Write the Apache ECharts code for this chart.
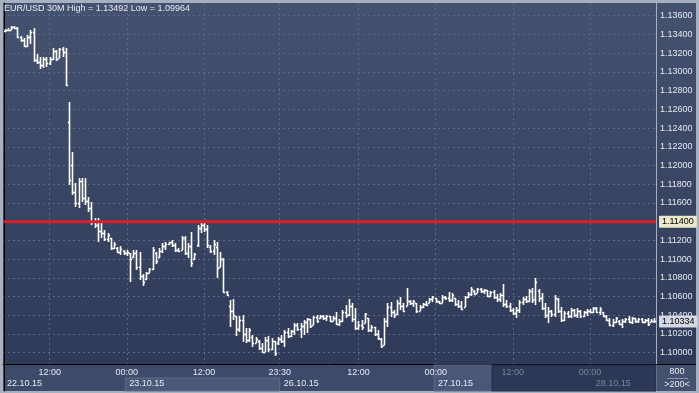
<!DOCTYPE html>
<html><head><meta charset="utf-8">
<script src="https://cdn.jsdelivr.net/npm/echarts@6/dist/echarts.min.js"></script>
<style>html,body{margin:0;padding:0;background:#a7b0c1}#c{width:699px;height:393px}</style>
</head><body><div id="c"></div>
<script>
// ---- data (30-minute OHLC bars, EUR/USD) ----
const open = [
1.13435,1.13450,1.13450,1.13480,1.13470,1.13370,1.13340,1.13280,1.13370,1.13430,
1.13130,1.13110,1.13070,1.13140,1.13090,1.13140,1.13220,1.13150,1.13240,1.13210,
1.12465,1.12000,1.11720,1.11600,1.11830,1.11650,1.11620,1.11550,1.11400,1.11360,
1.11300,1.11280,1.11210,1.11220,1.11120,1.11120,1.11080,1.11090,1.11060,1.11060,
1.11020,1.11070,1.10920,1.10820,1.10790,1.10850,1.10890,1.11060,1.11020,1.11090,
1.11140,1.11160,1.11180,1.11150,1.11100,1.11100,1.11230,1.11070,1.11140,1.11000,
1.11150,1.11330,1.11360,1.11320,1.11130,1.11090,1.11130,1.10920,1.11000,1.10650,
1.10500,1.10450,1.10390,1.10250,1.10350,1.10200,1.10140,1.10170,1.10105,1.10130,
1.10050,1.10010,1.10140,1.10040,1.10120,1.10100,1.10150,1.10120,1.10220,1.10180,
1.10230,1.10300,1.10250,1.10290,1.10330,1.10360,1.10300,1.10380,1.10370,1.10390,
1.10370,1.10390,1.10340,1.10370,1.10310,1.10340,1.10440,1.10400,1.10500,1.10360,
1.10260,1.10300,1.10320,1.10370,1.10240,1.10270,1.10200,1.10150,1.10085,1.10340,
1.10490,1.10430,1.10410,1.10530,1.10500,1.10500,1.10550,1.10530,1.10530,1.10450,
1.10490,1.10520,1.10535,1.10570,1.10580,1.10550,1.10530,1.10600,1.10580,1.10560,
1.10580,1.10520,1.10500,1.10490,1.10590,1.10630,1.10660,1.10640,1.10680,1.10660,
1.10670,1.10610,1.10650,1.10590,1.10570,1.10620,1.10520,1.10500,1.10460,1.10420,
1.10460,1.10540,1.10570,1.10550,1.10660,1.10570,1.10660,1.10580,1.10480,1.10400,
1.10450,1.10410,1.10570,1.10450,1.10350,1.10420,1.10390,1.10460,1.10400,1.10450,
1.10390,1.10430,1.10450,1.10430,1.10480,1.10440,1.10430,1.10390,1.10350,1.10300,
1.10330,1.10340,1.10310,1.10340,1.10360,1.10330,1.10370,1.10340,1.10360,1.10330,
1.10350,1.10330,1.10340];
const high = [
1.13458,1.13466,1.13490,1.13492,1.13476,1.13387,1.13359,1.13394,1.13448,1.13466,
1.13188,1.13162,1.13162,1.13162,1.13162,1.13252,1.13234,1.13258,1.13269,1.13252,
1.12675,1.12147,1.11810,1.11866,1.11866,1.11866,1.11667,1.11613,1.11436,1.11436,
1.11382,1.11311,1.11282,1.11222,1.11186,1.11133,1.11140,1.11097,1.11097,1.11062,
1.11097,1.11097,1.11079,1.10841,1.10865,1.10902,1.11133,1.11079,1.11115,1.11169,
1.11183,1.11186,1.11204,1.11169,1.11115,1.11247,1.11247,1.11169,1.11293,1.11062,
1.11364,1.11382,1.11389,1.11364,1.11151,1.11204,1.11186,1.11076,1.11012,1.10659,
1.10563,1.10574,1.10392,1.10392,1.10403,1.10264,1.10264,1.10189,1.10168,1.10136,
1.10104,1.10168,1.10179,1.10157,1.10125,1.10168,1.10189,1.10243,1.10264,1.10243,
1.10317,1.10317,1.10317,1.10349,1.10371,1.10360,1.10392,1.10403,1.10403,1.10403,
1.10403,1.10392,1.10392,1.10435,1.10360,1.10456,1.10510,1.10574,1.10531,1.10478,
1.10339,1.10349,1.10424,1.10371,1.10296,1.10275,1.10243,1.10157,1.10371,1.10531,
1.10542,1.10456,1.10563,1.10595,1.10531,1.10691,1.10563,1.10563,1.10531,1.10510,
1.10531,1.10552,1.10585,1.10606,1.10585,1.10552,1.10617,1.10606,1.10649,1.10638,
1.10585,1.10563,1.10552,1.10606,1.10649,1.10702,1.10670,1.10691,1.10691,1.10681,
1.10670,1.10659,1.10670,1.10627,1.10638,1.10734,1.10563,1.10531,1.10478,1.10489,
1.10563,1.10595,1.10606,1.10681,1.10691,1.10798,1.10681,1.10638,1.10531,1.10489,
1.10456,1.10617,1.10585,1.10489,1.10446,1.10446,1.10478,1.10467,1.10478,1.10456,
1.10446,1.10467,1.10467,1.10489,1.10489,1.10489,1.10435,1.10403,1.10371,1.10360,
1.10382,1.10349,1.10360,1.10371,1.10392,1.10382,1.10371,1.10371,1.10371,1.10360,
1.10371,1.10360,1.10371];
const low = [
1.13429,1.13437,1.13448,1.13458,1.13359,1.13323,1.13269,1.13269,1.13295,1.13109,
1.13081,1.13031,1.13045,1.13055,1.13074,1.13127,1.13116,1.13145,1.13162,1.12849,
1.11792,1.11685,1.11560,1.11549,1.11613,1.11578,1.11506,1.11364,1.11329,1.11183,
1.11229,1.11193,1.11186,1.11097,1.11105,1.11068,1.11044,1.11044,1.11033,1.10759,
1.11009,1.10884,1.10777,1.10713,1.10777,1.10848,1.10884,1.10948,1.11009,1.11062,
1.11097,1.11151,1.11133,1.11079,1.11079,1.11097,1.11044,1.11009,1.10919,1.10990,
1.11133,1.11276,1.11293,1.11119,1.11062,1.11044,1.10798,1.10916,1.10638,1.10606,
1.10275,1.10349,1.10179,1.10221,1.10114,1.10104,1.10114,1.10061,1.10104,1.10029,
1.09997,1.10008,1.10008,1.10029,1.09964,1.10082,1.10104,1.10061,1.10157,1.10168,
1.10189,1.10232,1.10157,1.10189,1.10211,1.10264,1.10296,1.10317,1.10360,1.10349,
1.10339,1.10328,1.10339,1.10296,1.10285,1.10328,1.10371,1.10392,1.10328,1.10243,
1.10243,1.10243,1.10317,1.10221,1.10221,1.10179,1.10136,1.10050,1.10082,1.10275,
1.10382,1.10371,1.10403,1.10456,1.10435,1.10499,1.10510,1.10489,1.10424,1.10446,
1.10478,1.10499,1.10531,1.10542,1.10531,1.10520,1.10530,1.10563,1.10542,1.10542,
1.10499,1.10478,1.10456,1.10489,1.10585,1.10606,1.10617,1.10638,1.10638,1.10627,
1.10595,1.10595,1.10574,1.10542,1.10542,1.10489,1.10478,1.10435,1.10403,1.10371,
1.10424,1.10510,1.10531,1.10542,1.10531,1.10510,1.10542,1.10456,1.10371,1.10317,
1.10382,1.10382,1.10424,1.10328,1.10339,1.10371,1.10371,1.10382,1.10371,1.10371,
1.10382,1.10392,1.10424,1.10424,1.10424,1.10403,1.10382,1.10339,1.10285,1.10275,
1.10317,1.10296,1.10264,1.10317,1.10317,1.10307,1.10317,1.10317,1.10317,1.10317,
1.10285,1.10328,1.10317];
const close = [
1.13450,1.13445,1.13480,1.13470,1.13370,1.13340,1.13280,1.13370,1.13430,1.13130,
1.13110,1.13070,1.13140,1.13090,1.13140,1.13220,1.13140,1.13240,1.13210,1.12860,
1.11850,1.11720,1.11600,1.11830,1.11650,1.11620,1.11550,1.11400,1.11360,1.11300,
1.11280,1.11210,1.11260,1.11120,1.11160,1.11080,1.11110,1.11060,1.11080,1.11000,
1.11070,1.10920,1.10820,1.10760,1.10850,1.10890,1.11100,1.10980,1.11090,1.11140,
1.11160,1.11180,1.11150,1.11100,1.11090,1.11230,1.11070,1.11140,1.10960,1.11050,
1.11330,1.11360,1.11320,1.11150,1.11090,1.11160,1.10900,1.11000,1.10650,1.10620,
1.10450,1.10400,1.10250,1.10350,1.10200,1.10140,1.10240,1.10100,1.10150,1.10050,
1.10010,1.10140,1.10040,1.10120,1.10000,1.10150,1.10120,1.10220,1.10180,1.10230,
1.10300,1.10250,1.10290,1.10330,1.10360,1.10290,1.10380,1.10340,1.10390,1.10370,
1.10390,1.10340,1.10370,1.10310,1.10340,1.10440,1.10400,1.10500,1.10360,1.10260,
1.10300,1.10270,1.10410,1.10240,1.10270,1.10200,1.10160,1.10070,1.10340,1.10490,
1.10430,1.10400,1.10530,1.10500,1.10450,1.10550,1.10530,1.10550,1.10450,1.10490,
1.10520,1.10510,1.10570,1.10590,1.10550,1.10530,1.10600,1.10580,1.10560,1.10620,
1.10520,1.10500,1.10470,1.10590,1.10630,1.10680,1.10630,1.10680,1.10660,1.10670,
1.10610,1.10650,1.10590,1.10570,1.10620,1.10520,1.10500,1.10460,1.10420,1.10460,
1.10540,1.10570,1.10550,1.10660,1.10560,1.10750,1.10580,1.10480,1.10400,1.10450,
1.10410,1.10580,1.10450,1.10350,1.10420,1.10390,1.10460,1.10400,1.10450,1.10390,
1.10430,1.10450,1.10430,1.10480,1.10440,1.10470,1.10390,1.10350,1.10300,1.10330,
1.10370,1.10310,1.10340,1.10360,1.10330,1.10370,1.10340,1.10360,1.10330,1.10350,
1.10310,1.10340,1.10334];

// ---- ticks / labels ----
const priceTicks = [1.100,1.102,1.104,1.106,1.108,1.110,1.112,1.114,1.116,1.118,
                    1.120,1.122,1.124,1.126,1.128,1.130,1.132,1.134,1.136];
const timeTickPos = [14, 38, 62, 85.5, 110, 134, 158, 182];
const timeTickLabels = ['12:00','00:00','12:00','23:30','12:00','00:00','12:00','00:00'];
const dateTickPos = [-0.5, 37.5, 85.5, 133.5, 182.5];
const dateTickLabels = ['22.10.15','23.10.15','26.10.15','27.10.15','28.10.15'];
const refLevel = 1.114;
const lastPrice = 1.10334;
const titleText = 'EUR/USD 30M High = 1.13492 Low = 1.09964';
const scaleText = '800';
const barsText = '>200<';
const futureFrom = 151.5;

const FONT = 'Liberation Sans';
const LIGHT = '#e6eaf2';
const DIM = '#78839c';
const GRIDC = '#5a698a';

const ohlc = open.map((o, i) => [i, o, high[i], low[i], close[i]]);
const xMin = -0.5, xMax = open.length - 0.5;

function lookup(pos, labels, v) {
  const n = Number(v);
  const k = pos.findIndex(p => Math.abs(p - n) < 1e-6);
  return k >= 0 ? labels[k] : '';
}

const bgGrad = new echarts.graphic.LinearGradient(0, 0, 0, 1, [
  {offset: 0, color: '#44516f'}, {offset: 1, color: '#2e3a58'}]);
const bgGrad2 = new echarts.graphic.LinearGradient(0, 0, 0, 1, [
  {offset: 0, color: '#44516f'}, {offset: 1, color: '#2e3a58'}]);

const priceLabel = (bg) => ({
  show: true, position: 'end', distance: 3, color: '#000', backgroundColor: bg,
  padding: [2, 3, 1, 3], fontSize: 9, fontFamily: FONT, borderRadius: 1
});

const chart = echarts.init(document.getElementById('c'), null, {renderer: 'canvas'});
chart.setOption({
  animation: false,
  backgroundColor: '#a7b0c1',
  title: {
    text: titleText, left: 4, top: 4, padding: 0,
    textStyle: {color: LIGHT, fontSize: 9, fontWeight: 'normal', fontFamily: FONT}
  },
  grid: [
    {left: 3, right: 43, top: 3, bottom: 29, show: true, backgroundColor: bgGrad, borderWidth: 0},
    {left: 3, right: 43, top: 365, bottom: 2, show: true, backgroundColor: '#3d4a69', borderWidth: 0}
  ],
  xAxis: [
    {gridIndex: 0, type: 'value', min: xMin, max: xMax, position: 'bottom',
     axisLine: {show: true, onZero: false, lineStyle: {color: '#000', width: 1}},
     axisTick: {show: false, customValues: timeTickPos},
     axisLabel: {show: false, customValues: timeTickPos},
     splitLine: {show: true, lineStyle: {color: GRIDC, type: [2, 3], width: 1}}},
    {gridIndex: 1, type: 'value', min: xMin, max: xMax, position: 'top',
     axisLine: {show: false, onZero: false}, axisTick: {show: false, customValues: timeTickPos},
     splitLine: {show: false}, z: 5,
     axisLabel: {inside: true, margin: 3, customValues: timeTickPos, fontSize: 9, fontFamily: FONT,
       color: v => Number(v) > futureFrom ? DIM : LIGHT,
       formatter: v => lookup(timeTickPos, timeTickLabels, v)}},
    {gridIndex: 1, type: 'value', min: xMin, max: xMax, position: 'bottom',
     axisLine: {show: false, onZero: false}, axisTick: {show: false, customValues: dateTickPos},
     splitLine: {show: false}, z: 5,
     axisLabel: {inside: true, margin: 3, customValues: dateTickPos, fontSize: 9, fontFamily: FONT,
       align: 'left', padding: [0, 0, 0, 4], showMinLabel: true,
       color: v => Number(v) > futureFrom ? DIM : LIGHT,
       formatter: v => lookup(dateTickPos, dateTickLabels, v)}}
  ],
  yAxis: [
    {gridIndex: 0, type: 'value', position: 'right', min: 1.098793, max: 1.137357,
     axisLine: {show: true, lineStyle: {color: '#000', width: 1}},
     axisTick: {show: false, customValues: priceTicks},
     axisLabel: {customValues: priceTicks, margin: 4, color: LIGHT, fontSize: 9, fontFamily: FONT,
       formatter: v => Number(v).toFixed(5)},
     splitLine: {show: true, lineStyle: {color: GRIDC, type: [2, 3], width: 1}}},
    {gridIndex: 1, type: 'value', position: 'right', min: 0, max: 2,
     axisLine: {show: true, lineStyle: {color: '#000', width: 1}},
     axisTick: {show: false}, axisLabel: {show: false}, splitLine: {show: false}}
  ],
  graphic: [
    {type: 'rect', shape: {x: 657, y: 3, width: 39, height: 361}, style: {fill: bgGrad2}, z: -1},
    {type: 'rect', shape: {x: 657, y: 365, width: 39, height: 26}, style: {fill: '#45526f'}, z: -1},
    {type: 'line', shape: {x1: 656, y1: 364.5, x2: 696, y2: 364.5}, style: {stroke: '#000', lineWidth: 1}},
    {type: 'text', x: 677, y: 371.5, style: {text: scaleText, fill: LIGHT, font: '9px "Liberation Sans"', textAlign: 'center', textVerticalAlign: 'middle'}},
    {type: 'line', shape: {x1: 667, y1: 378.5, x2: 688, y2: 378.5}, style: {stroke: '#8893ab', lineWidth: 1}},
    {type: 'text', x: 677, y: 384.5, style: {text: barsText, fill: LIGHT, font: '9px "Liberation Sans"', textAlign: 'center', textVerticalAlign: 'middle'}}
  ],
  series: [
    {
      type: 'custom', xAxisIndex: 0, yAxisIndex: 0, data: ohlc, clip: true,
      encode: {x: 0, y: [1, 2, 3, 4]},
      renderItem: function (params, api) {
        const i = api.value(0);
        const o = api.coord([i, api.value(1)]);
        const h = api.coord([i, api.value(2)]);
        const l = api.coord([i, api.value(3)]);
        const c = api.coord([i, api.value(4)]);
        const w = api.size([1, 0])[0];
        const x = Math.round(h[0]) + 0.5;
        const t = w * 0.5;
        const yh = Math.round(h[1]), yl = Math.max(Math.round(l[1]), yh + 1);
        const st = {stroke: '#ffffff', lineWidth: 1.6};
        return {type: 'group', children: [
          {type: 'line', shape: {x1: x, y1: yh, x2: x, y2: yl}, style: st},
          {type: 'line', shape: {x1: x - t, y1: Math.round(o[1]) + 0.5, x2: x, y2: Math.round(o[1]) + 0.5}, style: st},
          {type: 'line', shape: {x1: x, y1: Math.round(c[1]) + 0.5, x2: x + t, y2: Math.round(c[1]) + 0.5}, style: st}
        ]};
      }
    },
    {
      name: 'level', type: 'line', xAxisIndex: 0, yAxisIndex: 0, z: 3,
      data: [[xMin, refLevel], [xMax, refLevel]], showSymbol: false, silent: true,
      lineStyle: {color: '#d8202a', width: 3},
      endLabel: Object.assign(priceLabel('#ebe8cc'), {formatter: refLevel.toFixed(5)})
    },
    {
      name: 'last', type: 'line', xAxisIndex: 0, yAxisIndex: 0, z: 3,
      data: [[xMax - 1, lastPrice], [xMax, lastPrice]], showSymbol: false, silent: true,
      lineStyle: {width: 0, opacity: 0},
      endLabel: Object.assign(priceLabel('#d3d8e2'), {formatter: lastPrice.toFixed(5)})
    },
    {
      type: 'line', xAxisIndex: 1, yAxisIndex: 1, data: [[xMin, -1]], showSymbol: false,
      lineStyle: {opacity: 0}, silent: true,
      markArea: {
        silent: true,
        data: [
          [{xAxis: dateTickPos[1], yAxis: 0, itemStyle: {color: '#4b5877', borderColor: '#5e6b89', borderWidth: 1}},
           {xAxis: dateTickPos[2], yAxis: 1}],
          [{xAxis: dateTickPos[3], yAxis: 0, itemStyle: {color: '#4a5776', borderColor: '#5e6b89', borderWidth: 1}},
           {xAxis: futureFrom, yAxis: 2}],
          [{xAxis: futureFrom, yAxis: 0, itemStyle: {color: '#2c3855', borderColor: '#222c44', borderWidth: 1}},
           {xAxis: xMax, yAxis: 2}]
        ]
      }
    }
  ]
});
</script>
</body></html>
